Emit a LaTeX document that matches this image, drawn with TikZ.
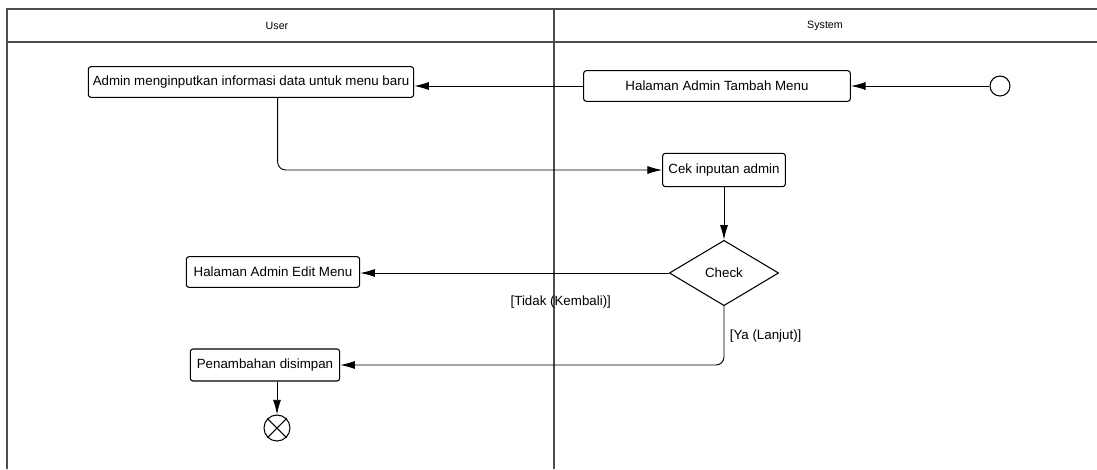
\documentclass[tikz,border=0pt]{standalone}
\usepackage{fontspec}
\setmainfont{Liberation Sans}
\usetikzlibrary{arrows.meta,shapes.geometric,positioning}
\tikzset{>={Latex[length=11pt,width=6pt]}}
\tikzset{act node/.style={draw,line width=0.8pt,rounded corners=2pt,inner sep=0pt,minimum height=23pt,font=\fontsize{10}{12}\selectfont},
         lane/.style={draw=black!70,line width=1.3pt},
         flow/.style={draw,line width=0.7pt,rounded corners=6pt},
         cond label/.style={font=\fontsize{10}{12}\selectfont,inner sep=0pt},
            }

\begin{document}
\begin{tikzpicture}[x=0.75pt,y=-0.75pt]
    \useasboundingbox (0,0) rectangle (1097,469);

    % swimlanes
    \draw[lane] (7,469) |- (1097,9);
    \draw[lane] (7,42) -- (1097,42);
    \draw[lane] (554,9) -- (554,469);
    \node[font=\fontsize{8}{10}\selectfont] (user) at (277,26) {User};
    \node[font=\fontsize{8}{10}\selectfont] (system) at (825,26) {System};

    \node[circle,draw,line width=0.8pt,minimum size=15pt,inner sep=0pt] (start) at (1000,86) {};
    \node[act node,minimum width=200pt] (tambah) at (717,86) {Halaman Admin Tambah Menu};
    \node[act node,minimum width=244pt] (input) at (251,82) {Admin menginputkan informasi data untuk menu baru};
    \node[act node,minimum width=92pt,minimum height=25pt] (cek) at (724,170) {Cek inputan admin};
    \node[diamond,draw,line width=0.8pt,inner sep=0pt,minimum width=82pt,minimum height=49pt,font=\fontsize{10}{12}\selectfont] (check) at (724,273) {Check};
    \node[act node,minimum width=130pt] (edit) at (273,272) {Halaman Admin Edit Menu};
    \node[act node,minimum width=112pt,minimum height=24pt] (simpan) at (265,365) {Penambahan disimpan};
    \node[circle,draw,line width=0.8pt,minimum size=19.5pt,inner sep=0pt] (final) at (277,428) {};
    \draw[line width=0.8pt] (final.north west) -- (final.south east) (final.north east) -- (final.south west);

    \path[flow,->]
    (start) -- (tambah);
    \path[flow,->]
    (tambah.west) -- (tambah.west -| input.east);
    \path[flow,->]
    ([xshift=20pt]input.south) |- (cek);
    \path[flow,->]
    (cek) -- (check);
    \path[flow,->]
    (check.west) -- node[cond label,pos=0.35,below=17pt]{[Tidak (Kembali)]} (check.west -| edit.east);
    \path[flow,->]
    (check.south) |- node[cond label,pos=0.25,right=4pt]{[Ya (Lanjut)]} (simpan);
    \path[flow,->]
    (simpan.south -| final) -- (final);

\end{tikzpicture}
\end{document}
